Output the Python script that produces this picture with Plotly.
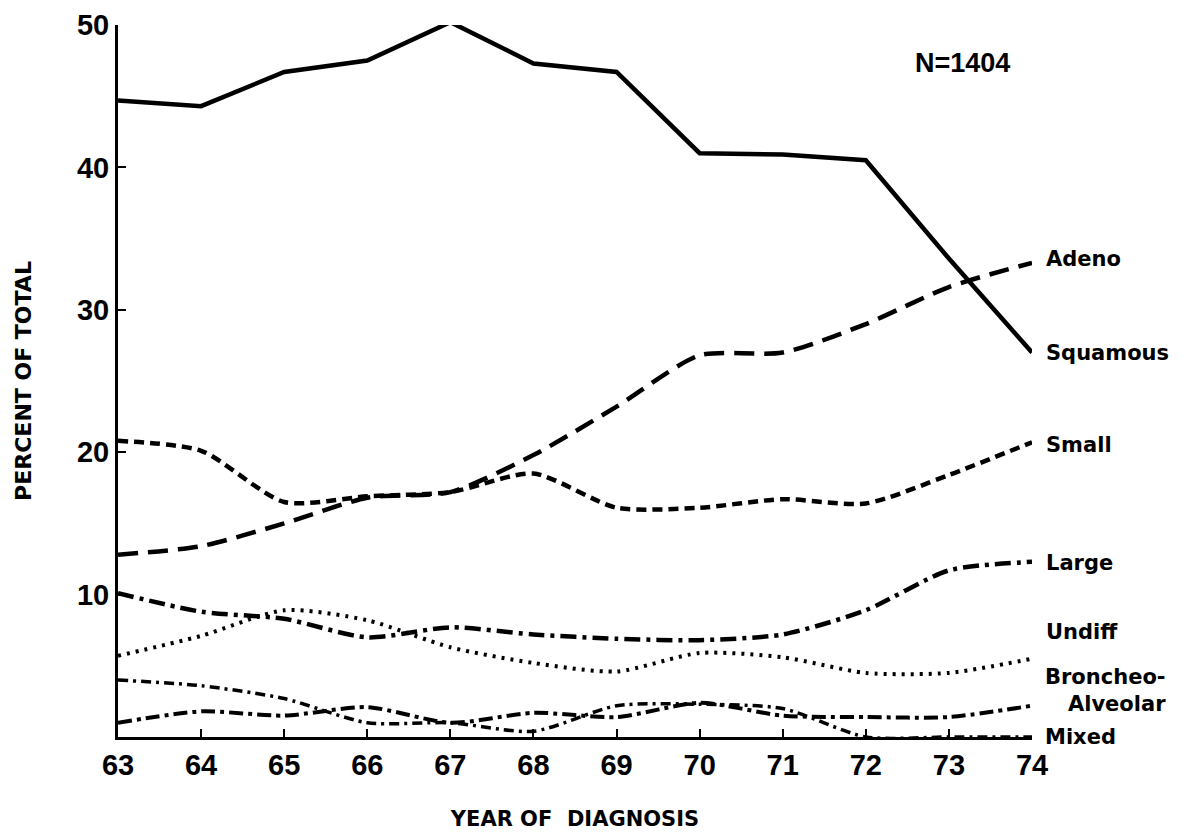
import plotly.graph_objects as go

years = [63, 64, 65, 66, 67, 68, 69, 70, 71, 72, 73, 74]
squamous = [44.7, 44.3, 46.7, 47.5, 50.2, 47.3, 46.7, 41.0, 40.9, 40.5, 33.6, 27.0]
adeno = [12.8, 13.4, 15.0, 16.8, 17.2, 19.8, 23.2, 26.8, 27.0, 29.0, 31.6, 33.3]
small = [20.8, 20.1, 16.5, 16.9, 17.2, 18.5, 16.1, 16.1, 16.7, 16.4, 18.4, 20.7]
large = [10.1, 8.8, 8.3, 7.0, 7.7, 7.2, 6.9, 6.8, 7.2, 8.9, 11.7, 12.3]
undiff = [5.7, 7.1, 8.9, 8.2, 6.3, 5.2, 4.6, 5.9, 5.6, 4.5, 4.5, 5.5]
broncheo = [1.0, 1.8, 1.5, 2.1, 1.0, 1.7, 1.4, 2.4, 1.5, 1.4, 1.4, 2.2]
mixed = [4.0, 3.6, 2.7, 1.0, 1.0, 0.4, 2.2, 2.3, 2.0, 0.0, 0.0, 0.0]

y_ticks = [10, 20, 30, 40, 50]

FONT = "DejaVu Sans"
TICKFONT = "Liberation Sans"
ink = "black"

fig = go.Figure()

series = [
    ("Squamous", squamous, "solid", "linear", 4.5),
    ("Adeno", adeno, "20px,10px", "spline", 4.5),
    ("Small", small, "10px,6px", "spline", 4.5),
    ("Large", large, "16px,6px,4px,6px", "spline", 4.5),
    ("Undiff", undiff, "3px,6px", "spline", 4),
    ("Broncheo-Alveolar", broncheo, "14px,5px,4px,5px", "spline", 4),
    ("Mixed", mixed, "10px,5px,3px,5px", "spline", 3.5),
]
for name, vals, dash, shape, w in series:
    fig.add_trace(go.Scatter(
        x=years, y=vals, mode="lines", name=name,
        line=dict(color=ink, width=w, dash=dash, shape=shape,
                  smoothing=0.7 if shape == "spline" else None),
        cliponaxis=False, showlegend=False,
    ))

labels = [
    ("Adeno", 33.6, 12, "left"),
    ("Squamous", 27.0, 12, "left"),
    ("Small", 20.5, 12, "left"),
    ("Large", 12.2, 12, "left"),
    ("Undiff", 7.4, 12, "left"),
    ("Broncheo-<br>Alveolar", 3.3, 11, "right"),
    ("Mixed", 0.0, 11, "left"),
]
for txt, yv, xs, al in labels:
    fig.add_annotation(x=74, y=yv, xref="x", yref="y", text=txt, align=al,
                       showarrow=False, xanchor="left", yanchor="middle",
                       xshift=xs, font=dict(family=FONT, size=21, color=ink, weight="bold"))

fig.add_annotation(x=0.924, y=0.947, xref="paper", yref="paper", text="N=1404",
                   showarrow=False, xanchor="center", yanchor="middle",
                   font=dict(family=TICKFONT, size=27, color=ink, weight="bold"))

fig.update_xaxes(range=[63, 74], tickvals=years, ticktext=[str(y) for y in years],
                 showline=True, linecolor=ink, linewidth=3, ticks="inside",
                 ticklen=8, tickwidth=2, tickcolor=ink, showgrid=False, zeroline=False,
                 automargin=False,
                 tickfont=dict(family=TICKFONT, size=29, color=ink, weight="bold"),
                 title=dict(text="YEAR OF  DIAGNOSIS", standoff=32,
                            font=dict(family=FONT, size=21, color=ink, weight="bold")))
fig.update_yaxes(range=[0, 50], tickvals=y_ticks, ticktext=[str(v) for v in y_ticks],
                 showline=True, linecolor=ink, linewidth=3, ticks="inside",
                 ticklen=8, tickwidth=2, tickcolor=ink, showgrid=False, zeroline=False,
                 automargin=False,
                 tickfont=dict(family=TICKFONT, size=29, color=ink, weight="bold"),
                 title=dict(text="PERCENT OF TOTAL", standoff=40,
                            font=dict(family=FONT, size=22, color=ink, weight="bold")))

fig.update_layout(
    width=1182, height=838,
    margin=dict(l=110, r=158, t=17, b=109),
    plot_bgcolor="white", paper_bgcolor="white",
)

fig.write_html("out.html")
